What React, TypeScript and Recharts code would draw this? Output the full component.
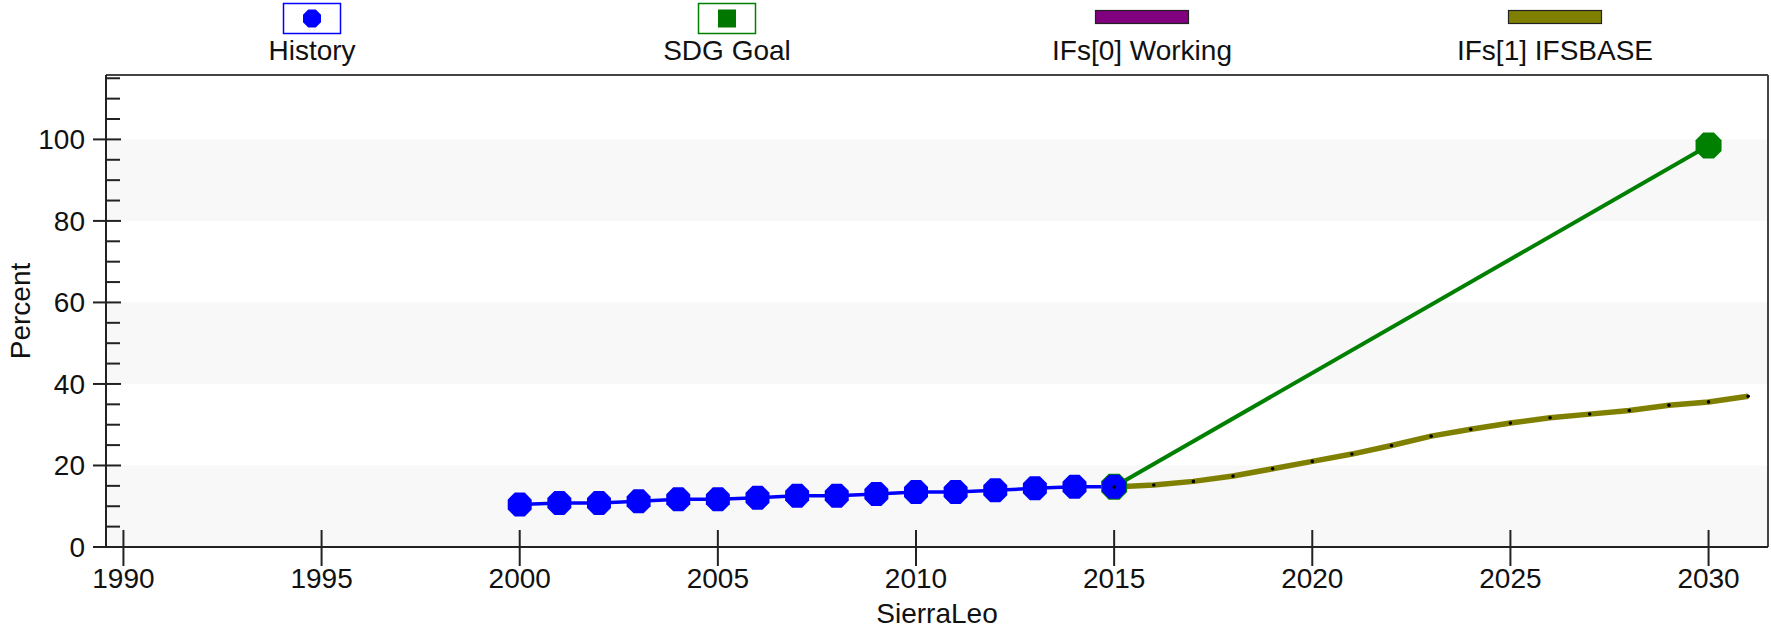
import {
  LineChart,
  Line,
  XAxis,
  YAxis,
  ReferenceArea,
  ReferenceLine,
  Label,
} from "recharts";

const historyYears = [2000, 2001, 2002, 2003, 2004, 2005, 2006, 2007, 2008, 2009, 2010, 2011, 2012, 2013, 2014, 2015];
const historyValues = [10.4, 10.8, 10.8, 11.2, 11.7, 11.7, 12.1, 12.6, 12.6, 13.0, 13.5, 13.5, 13.9, 14.4, 14.8, 14.8];

const sdgYears = [2015, 2030];
const sdgValues = [14.8, 98.5];

const ifsYears = [2015, 2016, 2017, 2018, 2019, 2020, 2021, 2022, 2023, 2024, 2025, 2026, 2027, 2028, 2029, 2030, 2031];
const ifsWorkingValues = [14.7, 15.2, 16.1, 17.4, 19.2, 21.0, 22.8, 24.9, 27.2, 28.9, 30.4, 31.7, 32.6, 33.5, 34.8, 35.6, 37.0];
const ifsBaseValues = [14.7, 15.2, 16.1, 17.4, 19.2, 21.0, 22.8, 24.9, 27.2, 28.9, 30.4, 31.7, 32.6, 33.5, 34.8, 35.6, 37.0];

const xTicks = [1990, 1995, 2000, 2005, 2010, 2015, 2020, 2025, 2030];
const yTicks = [0, 5, 10, 15, 20, 25, 30, 35, 40, 45, 50, 55, 60, 65, 70, 75, 80, 85, 90, 95, 100, 105, 110, 115];
const yMajorTicks = [0, 20, 40, 60, 80, 100];
const bands = [
  [0, 20],
  [40, 60],
  [80, 100],
];

const legendItems = [
  { name: "History", color: "#0000ff", kind: "dot" },
  { name: "SDG Goal", color: "#008000", kind: "square" },
  { name: "IFs[0] Working", color: "#800080", kind: "bar" },
  { name: "IFs[1] IFSBASE", color: "#808000", kind: "bar" },
];

const X_DOMAIN = [1989.56, 2031.5];
const Y_DOMAIN = [0, 115.8];
const FONT = "'Liberation Sans', Arial, sans-serif";

const historyData = historyYears.map((year, i) => ({ year, value: historyValues[i] }));
const sdgData = sdgYears.map((year, i) => ({ year, value: sdgValues[i] }));
const ifsWorkingData = ifsYears.map((year, i) => ({ year, value: ifsWorkingValues[i] }));
const ifsBaseData = ifsYears.map((year, i) => ({ year, value: ifsBaseValues[i] }));

function octagon(cx: number, cy: number, r: number) {
  const R = r / Math.cos(Math.PI / 8);
  const pts: string[] = [];
  for (let k = 0; k < 8; k++) {
    const a = Math.PI / 8 + (k * Math.PI) / 4;
    pts.push(`${cx + R * Math.cos(a)},${cy + R * Math.sin(a)}`);
  }
  return pts.join(" ");
}

const YTick = (props: any) => {
  const { x, y, payload } = props;
  const major = yMajorTicks.includes(payload.value);
  return (
    <g>
      {major ? (
        <line x1={x - 13} x2={x + 15} y1={y} y2={y} stroke="#222" strokeWidth={2} />
      ) : (
        <line x1={x} x2={x + 14} y1={y} y2={y} stroke="#222" strokeWidth={2} />
      )}
      {major && (
        <text x={x - 21} y={y + 10} textAnchor="end" fontSize={28} fontFamily={FONT} fill="#111">
          {payload.value}
        </text>
      )}
    </g>
  );
};

const XTick = (props: any) => {
  const { x, y, payload } = props;
  return (
    <g>
      <line x1={x} x2={x} y1={y - 17} y2={y + 19} stroke="#222" strokeWidth={2} />
      <text x={x} y={y + 41} textAnchor="middle" fontSize={28} fontFamily={FONT} fill="#111">
        {payload.value}
      </text>
    </g>
  );
};

const PercentLabel = (props: any) => {
  const vb = props.viewBox || { y: 75, height: 472 };
  const cy = vb.y + vb.height / 2;
  return (
    <text x={30} y={cy} transform={`rotate(-90, 30, ${cy})`} textAnchor="middle" fontSize={28} fontFamily={FONT} fill="#111">
      Percent
    </text>
  );
};

const CountryLabel = (props: any) => {
  const vb = props.viewBox || { x: 106, width: 1662 };
  const cx = vb.x + vb.width / 2;
  return (
    <text x={cx} y={623} textAnchor="middle" fontSize={28} fontFamily={FONT} fill="#111">
      SierraLeo
    </text>
  );
};

const HistoryDot = (props: any) => {
  const { cx, cy, index } = props;
  if (cx == null || cy == null) return <g key={`h-${index}`} />;
  return <polygon key={`h-${index}`} points={octagon(cx, cy, 12)} fill="#0000ff" />;
};

const SdgDot = (props: any) => {
  const { cx, cy, index } = props;
  if (cx == null || cy == null) return <g key={`s-${index}`} />;
  return <polygon key={`s-${index}`} points={octagon(cx, cy, 13)} fill="#008000" />;
};

const IfsDot = (props: any) => {
  const { cx, cy, index } = props;
  if (cx == null || cy == null) return <g key={`i-${index}`} />;
  return <circle key={`i-${index}`} cx={cx} cy={cy} r={1.8} fill="#000" />;
};

function ChartLegend() {
  const centers = [312, 727, 1142, 1555];
  return (
    <svg width={1771} height={70} style={{ position: "absolute", left: 0, top: 0 }}>
      {legendItems.map((item, i) => {
        const c = centers[i];
        return (
          <g key={item.name}>
            {item.kind === "dot" && (
              <>
                <rect x={c - 28.5} y={3.5} width={57} height={30} fill="#fff" stroke={item.color} strokeWidth={1.5} />
                <polygon points={octagon(c, 18.5, 9)} fill={item.color} />
              </>
            )}
            {item.kind === "square" && (
              <>
                <rect x={c - 28.5} y={3.5} width={57} height={30} fill="#fff" stroke={item.color} strokeWidth={1.5} />
                <rect x={c - 9} y={9.5} width={18} height={18} fill="#007800" />
              </>
            )}
            {item.kind === "bar" && (
              <rect x={c - 46.5} y={10.5} width={93} height={13} fill={item.color} stroke="#222" strokeWidth={1.2} />
            )}
            <text x={c} y={60} textAnchor="middle" fontSize={28} fontFamily={FONT} fill="#111">
              {item.name}
            </text>
          </g>
        );
      })}
    </svg>
  );
}

export default function App() {
  return (
    <div
      style={{
        position: "absolute",
        left: 0,
        top: 0,
        width: 1771,
        height: 630,
        background: "#fff",
        fontFamily: FONT,
      }}
    >
      <LineChart width={1771} height={630} margin={{ top: 75, right: 3, bottom: 0, left: 0 }}>
        {bands.map(([a, b]) => (
          <ReferenceArea key={`band-${a}`} y1={a} y2={b} fill="#f8f8f8" fillOpacity={1} stroke="none" />
        ))}
        <XAxis
          type="number"
          dataKey="year"
          domain={X_DOMAIN}
          ticks={xTicks}
          interval={0}
          height={83}
          tickSize={0}
          tickMargin={0}
          tick={<XTick />}
          axisLine={{ stroke: "#222", strokeWidth: 2 }}
          allowDataOverflow
        >
          <Label content={<CountryLabel />} />
        </XAxis>
        <YAxis
          type="number"
          domain={Y_DOMAIN}
          ticks={yTicks}
          interval={0}
          width={106}
          tickSize={0}
          tickMargin={0}
          tick={<YTick />}
          axisLine={{ stroke: "#222", strokeWidth: 2 }}
          allowDataOverflow
        >
          <Label content={<PercentLabel />} />
        </YAxis>
        <ReferenceLine y={Y_DOMAIN[1]} stroke="#444" strokeWidth={2} />
        <ReferenceLine x={X_DOMAIN[1]} stroke="#444" strokeWidth={2} />
        <Line
          data={sdgData}
          dataKey="value"
          stroke="#008000"
          strokeWidth={4}
          dot={<SdgDot />}
          activeDot={false}
          isAnimationActive={false}
        />
        <Line
          data={historyData}
          dataKey="value"
          stroke="#0000ff"
          strokeWidth={3.5}
          dot={<HistoryDot />}
          activeDot={false}
          isAnimationActive={false}
        />
        <Line
          data={ifsWorkingData}
          dataKey="value"
          stroke="#800080"
          strokeWidth={3}
          dot={false}
          activeDot={false}
          isAnimationActive={false}
        />
        <Line
          data={ifsBaseData}
          dataKey="value"
          stroke="#808000"
          strokeWidth={5.5}
          dot={<IfsDot />}
          activeDot={false}
          isAnimationActive={false}
        />
      </LineChart>
      <ChartLegend />
    </div>
  );
}
